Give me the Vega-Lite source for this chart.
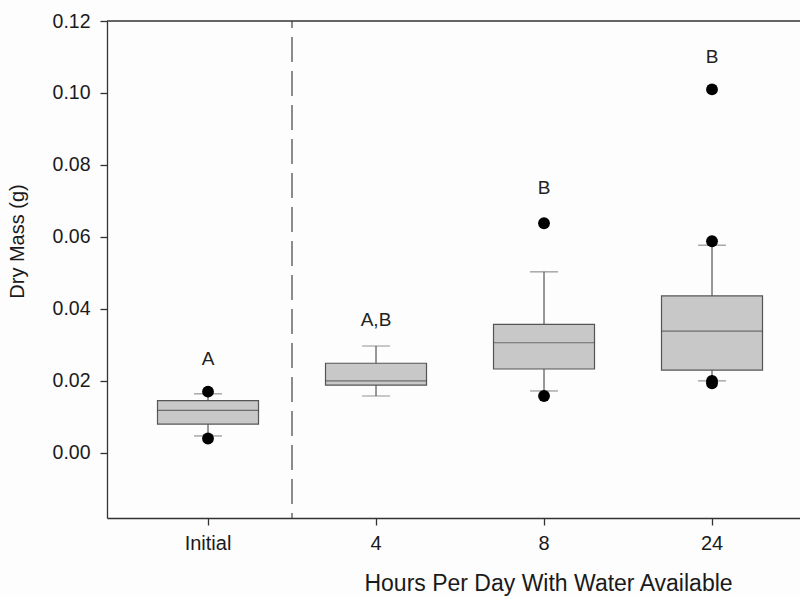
{
  "$schema": "https://vega.github.io/schema/vega-lite/v6.json",
  "width": 693,
  "height": 497,
  "autosize": "none",
  "padding": {"left": 107, "top": 21, "right": 0, "bottom": 79},
  "background": "#fdfdfd",
  "config": {
    "view": {"stroke": null},
    "font": "Liberation Sans",
    "axis": {"grid": false, "domainColor": "#333333", "tickColor": "#333333", "domainWidth": 1.3, "tickWidth": 1.3, "labelColor": "#1a1a1a", "titleColor": "#1a1a1a", "titleFontWeight": "normal"}
  },
  "datasets": {
    "boxes": [
      {"group": "Initial", "wlo": 0.0047, "q1": 0.0080, "med": 0.0118, "q3": 0.0145, "whi": 0.0164, "label": "A", "ly": 0.0262},
      {"group": "4", "wlo": 0.0158, "q1": 0.0188, "med": 0.0200, "q3": 0.0249, "whi": 0.0297, "label": "A,B", "ly": 0.0370},
      {"group": "8", "wlo": 0.0172, "q1": 0.0233, "med": 0.0306, "q3": 0.0357, "whi": 0.0503, "label": "B", "ly": 0.0737},
      {"group": "24", "wlo": 0.0200, "q1": 0.0230, "med": 0.0338, "q3": 0.0436, "whi": 0.0577, "label": "B", "ly": 0.1100}
    ],
    "points": [
      {"group": "Initial", "value": 0.0170},
      {"group": "Initial", "value": 0.0040},
      {"group": "8", "value": 0.0638},
      {"group": "8", "value": 0.0158},
      {"group": "24", "value": 0.1010},
      {"group": "24", "value": 0.0588},
      {"group": "24", "value": 0.0193},
      {"group": "24", "value": 0.0200}
    ]
  },
  "encoding": {
    "x": {
      "field": "group", "type": "nominal",
      "scale": {"domain": ["Initial", "4", "8", "24"], "paddingInner": 0, "paddingOuter": 0.0625, "align": 0.81},
      "axis": {"title": "Hours Per Day With Water Available", "labelAngle": 0, "labelFontSize": 20, "labelPadding": 8, "tickSize": 7, "titleFontSize": 23, "titleX": 441, "titleY": 54, "titleBaseline": "top"}
    }
  },
  "layer": [
    {
      "data": {"name": "boxes"},
      "mark": {"type": "rule", "color": "#555555", "strokeWidth": 1.2},
      "encoding": {
        "y": {"field": "wlo", "type": "quantitative", "scale": {"domain": [-0.0181, 0.12], "nice": false, "zero": false},
          "axis": {"title": "Dry Mass (g)", "values": [0, 0.02, 0.04, 0.06, 0.08, 0.1, 0.12], "format": ".2f", "labelFontSize": 19.5, "labelPadding": 10, "tickSize": 7, "titleFontSize": 20, "titleX": -90, "titleY": 220, "titleAngle": -90, "titleBaseline": "middle", "titleAlign": "center"}},
        "y2": {"field": "whi"}
      }
    },
    {
      "data": {"name": "boxes"},
      "mark": {"type": "tick", "color": "#666666", "thickness": 1.2, "size": 28},
      "encoding": {"y": {"field": "wlo", "type": "quantitative"}}
    },
    {
      "data": {"name": "boxes"},
      "mark": {"type": "tick", "color": "#666666", "thickness": 1.2, "size": 28},
      "encoding": {"y": {"field": "whi", "type": "quantitative"}}
    },
    {
      "data": {"name": "boxes"},
      "mark": {"type": "bar", "width": 101, "fill": "#c8c8c8", "stroke": "#555555", "strokeWidth": 1.2},
      "encoding": {"y": {"field": "q1", "type": "quantitative"}, "y2": {"field": "q3"}}
    },
    {
      "data": {"name": "boxes"},
      "mark": {"type": "tick", "color": "#444444", "thickness": 1.2, "size": 101},
      "encoding": {"y": {"field": "med", "type": "quantitative"}}
    },
    {
      "data": {"name": "points"},
      "mark": {"type": "circle", "color": "#000000", "opacity": 1, "size": 140},
      "encoding": {"y": {"field": "value", "type": "quantitative"}}
    },
    {
      "data": {"name": "boxes"},
      "mark": {"type": "text", "fontSize": 19, "color": "#222222", "baseline": "middle"},
      "encoding": {"y": {"field": "ly", "type": "quantitative"}, "text": {"field": "label"}}
    },
    {
      "data": {"values": [{"group": "4", "top": 0.12, "bottom": -0.0181}]},
      "mark": {"type": "rule", "color": "#666666", "strokeWidth": 1.5, "strokeDash": [25, 9], "strokeDashOffset": 18},
      "encoding": {"x": {"field": "group", "type": "nominal", "bandPosition": 0}, "y": {"field": "top", "type": "quantitative"}, "y2": {"field": "bottom"}}
    },
    {
      "data": {"values": [{"top": 0.12}]},
      "mark": {"type": "rule", "color": "#333333", "strokeWidth": 1.3},
      "encoding": {"x": null, "y": {"field": "top", "type": "quantitative"}}
    }
  ]
}
